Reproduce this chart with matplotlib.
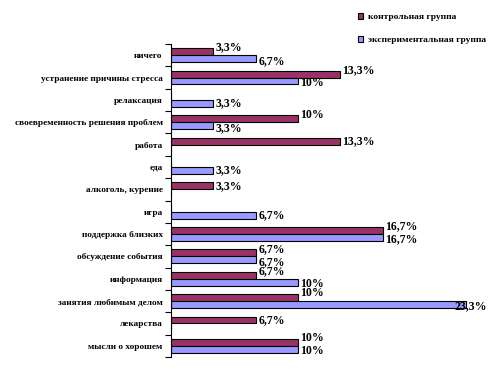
import matplotlib
matplotlib.use("Agg")
import matplotlib.pyplot as plt
import numpy as np

categories = ["ничего", "устранение причины стресса", "релаксация",
              "своевременность решения проблем", "работа", "еда",
              "алкоголь, курение", "игра", "поддержка близких",
              "обсуждение события", "информация", "занятия любимым делом",
              "лекарства", "мысли о хорошем"]
control = [3.3, 13.3, 0, 10, 13.3, 0, 3.3, 0, 16.7, 6.7, 6.7, 10, 6.7, 10]
experimental = [6.7, 10, 3.3, 3.3, 0, 3.3, 0, 6.7, 16.7, 6.7, 10, 23.3, 0, 10]
series_names = ["контрольная группа", "экспериментальная группа"]
colors = ["#993366", "#9999FF"]

def fmt(v):
    s = f"{v:.1f}".rstrip("0").rstrip(".")
    return s.replace(".", ",") + "%"

fig = plt.figure(figsize=(4.94, 3.69), dpi=100)
ax = fig.add_axes([171/494, 1-357/369, (488-171)/494, (357-44)/369])

y = np.arange(len(categories))
h = 0.31
serif = ["Liberation Serif", "DejaVu Serif"]
c_arr = np.array(control, dtype=float)
e_arr = np.array(experimental, dtype=float)
both = (c_arr > 0) & (e_arr > 0)
for v, off, col, name, dy in [(c_arr, -h/2, colors[0], series_names[0], 3.0),
                              (e_arr, h/2, colors[1], series_names[1], -1.5)]:
    ax.barh(y + off, v, height=h, color=col, edgecolor="black", linewidth=0.8, label=name)
    for i, (yi, val) in enumerate(zip(y + off, v)):
        if val <= 0:
            continue
        d = dy if both[i] else 0
        if val > 22:
            ax.annotate(fmt(val), xy=(487/494, yi), xycoords=(fig.transFigure, ax.transData),
                        xytext=(0, d), textcoords="offset points",
                        ha="right", va="center", fontsize=8.5, fontweight="bold",
                        family=serif, color="black", annotation_clip=False)
        else:
            ax.annotate(fmt(val), (val, yi), xytext=(2, d), textcoords="offset points",
                        ha="left", va="center", fontsize=8.5, fontweight="bold",
                        family=serif, color="black", annotation_clip=False)

ax.set_xlim(0, 25)
ax.set_ylim(len(categories) - 0.5, -0.5)
ax.set_yticks(np.arange(-0.5, len(categories), 1.0))
ax.set_yticklabels([])
ax.set_yticks(y, minor=True)
ax.set_yticklabels(categories, minor=True, fontsize=6.7, fontweight="bold", family=serif)
ax.tick_params(axis="y", which="major", length=4, width=0.8, direction="out")
ax.tick_params(axis="y", which="minor", length=0, pad=6)
ax.set_xticks([])
for s in ["top", "right", "bottom"]:
    ax.spines[s].set_visible(False)
ax.spines["left"].set_linewidth(0.8)

handles, labels = ax.get_legend_handles_labels()
fig.legend(handles, labels, loc="upper left", bbox_to_anchor=(350/494, 1-5/369),
           frameon=False, prop={"family": serif, "weight": "bold", "size": 6.8},
           handlelength=0.6, handleheight=0.6, labelspacing=1.6, handletextpad=0.5,
           borderpad=0.3)

fig.savefig("out.png", dpi=100)
